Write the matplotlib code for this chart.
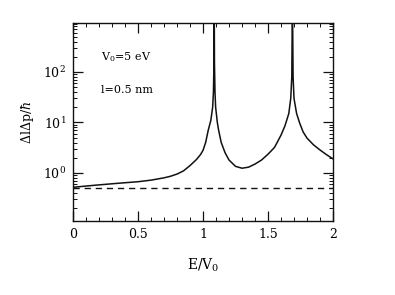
import numpy as np
import matplotlib
matplotlib.use("Agg")
import matplotlib.pyplot as plt
from matplotlib.ticker import MultipleLocator, LogLocator

plt.rcParams['font.family'] = ['DejaVu Serif']
plt.rcParams['mathtext.fontset'] = 'dejavuserif'

# Delta l * Delta p / hbar versus E/V0
energy = [0.0, 0.1, 0.2, 0.3, 0.4, 0.5, 0.6, 0.7, 0.75, 0.8, 0.85, 0.9, 0.95, 0.98,
          1.0, 1.02, 1.04, 1.06, 1.074, 1.08, 1.084, 1.086, 1.088, 1.092, 1.097,
          1.11, 1.12, 1.14, 1.17, 1.2, 1.25, 1.3, 1.35, 1.4, 1.45, 1.5, 1.55,
          1.6, 1.63, 1.66, 1.675, 1.683, 1.688, 1.693, 1.70, 1.72, 1.745, 1.77,
          1.8, 1.85, 1.9, 1.95, 2.0]
uncert = [0.52, 0.55, 0.58, 0.61, 0.64, 0.67, 0.72, 0.80, 0.86, 0.95, 1.1, 1.4, 1.85, 2.3,
          2.8, 4.0, 7.0, 11, 20, 40, 150, 3000, 150, 40, 20,
          10, 7.0, 4.0, 2.5, 1.8, 1.35, 1.24, 1.3, 1.5, 1.8, 2.35, 3.2,
          5.6, 8.5, 15, 30, 80, 3000, 80, 30, 15, 9.5, 6.5,
          4.9, 3.6, 2.85, 2.3, 1.9]
# lower bound hbar/2
bound_x = [0.0, 2.0]
bound_y = [0.5, 0.5]

fig = plt.figure(figsize=(3.95, 2.95), dpi=100)
ax = fig.add_axes([0.185, 0.251, 0.658, 0.671])

ax.plot(energy, uncert, color='#111111', lw=1.1)
ax.plot(bound_x, bound_y, color='#111111', lw=1.0, dashes=(4.5, 3.5))

ax.set_yscale('log')
ax.set_xlim(0, 2)
ax.set_ylim(0.112, 930)

ax.xaxis.set_major_locator(MultipleLocator(0.5))
ax.xaxis.set_minor_locator(MultipleLocator(0.1))
ax.yaxis.set_major_locator(LogLocator(base=10, numticks=10))
ax.yaxis.set_minor_locator(LogLocator(base=10, subs=np.arange(2, 10), numticks=10))
ax.set_xticks([0, 0.5, 1, 1.5, 2])
ax.set_xticklabels(['0', '0.5', '1', '1.5', '2'])

ax.tick_params(which='both', direction='in', top=True, right=True, color='#111111')
ax.tick_params(which='major', length=7, width=0.9, labelsize=9, pad=5)
ax.tick_params(which='minor', length=3, width=0.7)
for s in ax.spines.values():
    s.set_linewidth(1.0)
    s.set_color('#111111')

ax.set_xlabel(r'E/V$_0$', fontsize=10, labelpad=11)
ax.set_ylabel(r'$\Delta$l$\Delta$p/$\hbar$', fontsize=9, labelpad=5)

ax.text(0.108, 0.828, r'V$_0$=5 eV', transform=ax.transAxes, fontsize=8, va='center')
ax.text(0.108, 0.662, 'l=0.5 nm', transform=ax.transAxes, fontsize=8, va='center')

fig.savefig('out.png', dpi=100)
